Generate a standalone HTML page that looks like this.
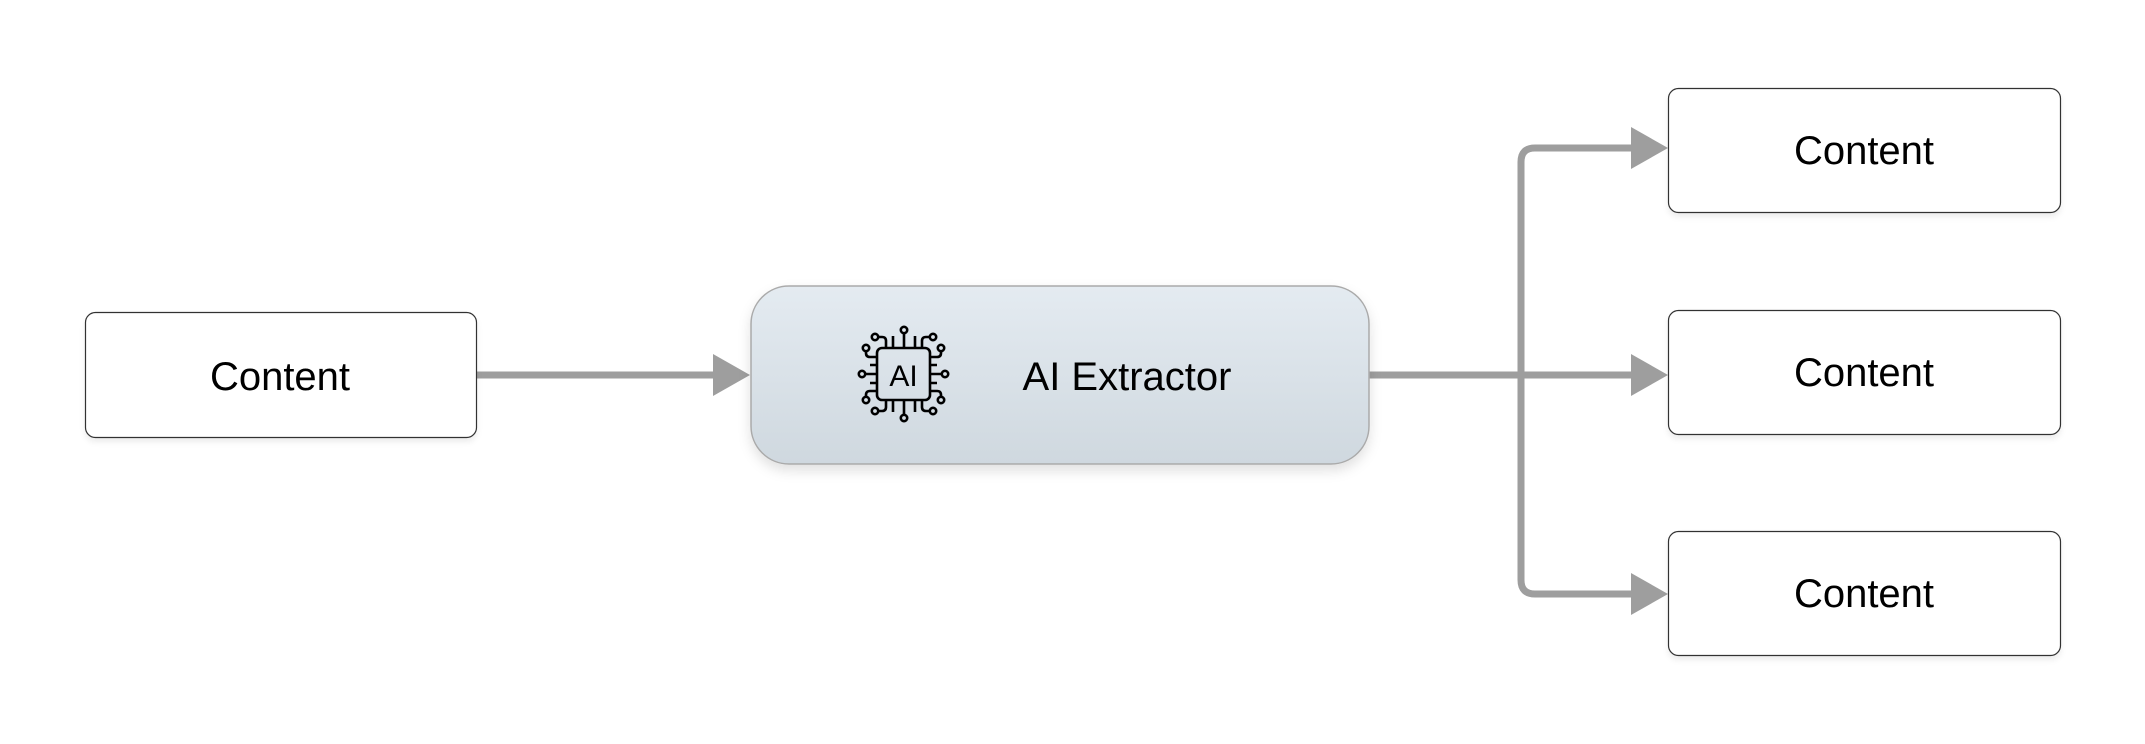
<!DOCTYPE html>
<html><head><meta charset="utf-8"><style>
html,body{margin:0;padding:0;background:#fff;width:2145px;height:744px;overflow:hidden}
svg{display:block}
text{font-family:"Liberation Sans",sans-serif;fill:#000}
</style></head><body>
<svg width="2145" height="744" viewBox="0 0 2145 744" xmlns="http://www.w3.org/2000/svg">
<defs>
<linearGradient id="g" x1="0" y1="0" x2="0" y2="1"><stop offset="0" stop-color="#e4ebf1"/><stop offset="1" stop-color="#cfd8df"/></linearGradient>
<filter id="s" x="-20%" y="-20%" width="140%" height="160%"><feDropShadow dx="0" dy="6" stdDeviation="6" flood-color="#000" flood-opacity="0.12"/></filter>
<filter id="s2" x="-10%" y="-10%" width="120%" height="130%"><feDropShadow dx="0" dy="4" stdDeviation="3" flood-color="#000" flood-opacity="0.07"/></filter>
</defs>
<g stroke="#9e9e9e" stroke-width="7" fill="none">
<line x1="476" y1="375" x2="716" y2="375"/>
<line x1="1369" y1="375" x2="1634" y2="375"/>
<path d="M1634 148 H1535 Q1521 148 1521 162 V580 Q1521 594 1535 594 H1634"/>
</g>
<g fill="#9e9e9e">
<polygon points="713,354 750,375 713,396"/>
<polygon points="1631,127 1668,148 1631,169"/>
<polygon points="1631,354 1668,375 1631,396"/>
<polygon points="1631,573 1668,594 1631,615"/>
</g>
<rect x="85.5" y="312.5" width="391" height="125" rx="10" fill="#fff" stroke="#333" stroke-width="1.2" filter="url(#s2)"/>
<text x="280" y="390" font-size="40" text-anchor="middle">Content</text>
<rect x="751" y="286" width="618" height="178" rx="38" fill="url(#g)" stroke="#aaa" stroke-width="1.5" filter="url(#s)"/>
<text x="1127" y="390" font-size="40" text-anchor="middle">AI Extractor</text>
<g stroke="#000" stroke-width="2.6" fill="none">
<rect x="877" y="348" width="53" height="52" rx="5"/>
<path d="M893 348 V336 M904 348 V332 M915 348 V336 M893 400 V412 M904 400 V416 M915 400 V412"/>
<path d="M886 348 V341 Q886 337 882 337 H878 M922 348 V341 Q922 337 926 337 H930"/>
<path d="M886 400 V407 Q886 411 882 411 H878 M922 400 V407 Q922 411 926 411 H930"/>
<path d="M877 365 H870 M877 374 H864 M877 383 H870 M930 365 H937 M930 374 H943 M930 383 H937"/>
<path d="M877 357 H870 Q866 357 866 353 V351 M877 391 H870 Q866 391 866 395 V397 M930 357 H937 Q941 357 941 353 V351 M930 391 H937 Q941 391 941 395 V397"/>
<circle cx="904" cy="330" r="3.2"/><circle cx="904" cy="418" r="3.2"/>
<circle cx="875" cy="337" r="3.2"/><circle cx="933" cy="337" r="3.2"/>
<circle cx="875" cy="411" r="3.2"/><circle cx="933" cy="411" r="3.2"/>
<circle cx="862" cy="374" r="3.2"/><circle cx="945" cy="374" r="3.2"/>
<circle cx="866" cy="348" r="3.2"/><circle cx="941" cy="348" r="3.2"/>
<circle cx="866" cy="400" r="3.2"/><circle cx="941" cy="400" r="3.2"/>
</g>
<text x="903.5" y="386" font-size="30" text-anchor="middle" font-family="Liberation Mono">AI</text>
<rect x="1668.5" y="88.5" width="392" height="124" rx="10" fill="#fff" stroke="#333" stroke-width="1.2" filter="url(#s2)"/>
<text x="1864" y="164" font-size="40" text-anchor="middle">Content</text>
<rect x="1668.5" y="310.5" width="392" height="124" rx="10" fill="#fff" stroke="#333" stroke-width="1.2" filter="url(#s2)"/>
<text x="1864" y="386" font-size="40" text-anchor="middle">Content</text>
<rect x="1668.5" y="531.5" width="392" height="124" rx="10" fill="#fff" stroke="#333" stroke-width="1.2" filter="url(#s2)"/>
<text x="1864" y="607" font-size="40" text-anchor="middle">Content</text>
</svg>
</body></html>
